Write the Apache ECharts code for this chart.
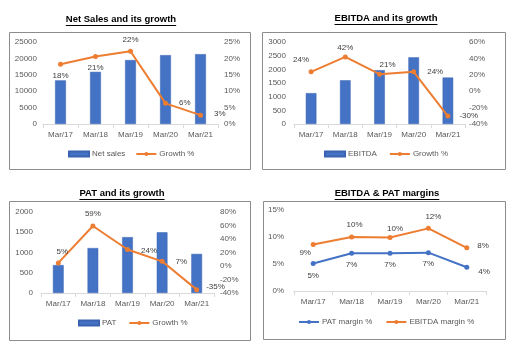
<!DOCTYPE html>
<html>
<head>
<meta charset="utf-8">
<script src="https://cdn.jsdelivr.net/npm/echarts@6/dist/echarts.min.js"></script>
<style>
  html, body { margin: 0; padding: 0; background: #fff; }
  #main { width: 512px; height: 354px; }
</style>
</head>
<body>
<div id="main"></div>
<script>
// data
const categories = ['Mar/17', 'Mar/18', 'Mar/19', 'Mar/20', 'Mar/21']
const netSales = [13300, 15900, 19500, 21000, 21300]
const netSalesGrowth = [18.2, 20.6, 22.2, 6.3, 2.7]
const ebitda = [1130, 1600, 1970, 2440, 1700]
const ebitdaGrowth = [23.6, 41.8, 20.7, 23.6, -30.3]
const pat = [690, 1110, 1380, 1500, 965]
const patGrowth = [4.6, 59.3, 24.4, 6.9, -35]
const ebitdaMargin = [8.6, 10.0, 9.9, 11.6, 8.0]
const patMargin = [5.1, 7.0, 7.0, 7.1, 4.4]

const titles = ['Net Sales and its growth', 'EBITDA and its growth', 'PAT and its growth', 'EBITDA & PAT margins']

const FONT = "'Liberation Sans', Arial, sans-serif"
const FS = 8
const BLUE = '#4472C4'
const ORANGE = '#ED7D31'
const GREY_TXT = '#595959'

// label placement per point (style only)
const lp1 = [['bottom', [0, 0]], ['bottom', [0, 0]], ['top', [0, 0]], ['right', [6, -1]], ['right', [6, -1]]]
const lp2 = [['top', [-10, -1]], ['top', [0, 2]], ['top', [8, 2]], ['right', [6, 0]], ['right', [4, 0]]]
const lp3 = [['top', [4, 0]], ['top', [0, -1]], ['right', [6, 1]], ['right', [6, 0]], ['right', [2, -3]]]
const lp4a = [['bottom', [-8, -3]], ['top', [3, -1]], ['top', [5, 3]], ['top', [5, 0]], ['right', [3, -2]]]
const lp4b = [['bottom', [0, 1]], ['bottom', [0, 0]], ['bottom', [0, 0]], ['bottom', [0, 0]], ['right', [4, 5]]]

function pctData(values, pos) {
  return values.map((v, i) => ({
    value: v,
    label: { position: pos[i][0], offset: pos[i][1] }
  }))
}

let chart = echarts.init(document.getElementById('main'), null, { renderer: 'canvas' })

// measure title width for underline
const TITLE_FONT = 'bold 9.5px ' + FONT
let ctx = document.createElement('canvas').getContext('2d')
ctx.font = TITLE_FONT

const boxes = [
  [9, 32, 241, 137],
  [262, 32, 243, 137],
  [9, 201, 241, 139],
  [263, 201, 242, 138]
]
const titlePos = [[121, 19], [386, 18], [122, 193], [387, 193]]

let graphics = []
boxes.forEach(b => {
  graphics.push({
    type: 'rect', shape: { x: b[0] + 0.5, y: b[1] + 0.5, width: b[2], height: b[3] },
    style: { fill: null, stroke: '#8c8c8c', lineWidth: 1 }
  })
})
titles.forEach((t, i) => {
  let w = ctx.measureText(t).width
  let p = titlePos[i]
  graphics.push({
    type: 'text', x: p[0], y: p[1],
    style: { text: t, font: TITLE_FONT, fill: '#000', textAlign: 'center', textVerticalAlign: 'middle' }
  })
  graphics.push({
    type: 'line', shape: { x1: p[0] - w / 2, y1: p[1] + 6.5, x2: p[0] + w / 2, y2: p[1] + 6.5 },
    style: { stroke: '#000', lineWidth: 1 }
  })
})

function xAx(gi) {
  return {
    type: 'category', gridIndex: gi, data: categories,
    axisLine: { lineStyle: { color: '#d9d9d9' } },
    axisTick: { show: true, length: 4, interval: 0, lineStyle: { color: '#d9d9d9' } },
    axisLabel: { color: GREY_TXT, fontFamily: FONT, fontSize: FS, margin: 7, interval: 0 },
    splitLine: { show: false }
  }
}
function yAx(gi, min, max, interval, pct, margin) {
  return {
    type: 'value', gridIndex: gi, min: min, max: max, interval: interval,
    axisLine: { show: false }, axisTick: { show: false },
    splitLine: { show: false },
    axisLabel: {
      color: GREY_TXT, fontFamily: FONT, fontSize: FS, margin: margin,
      formatter: v => pct ? v + '%' : String(v)
    }
  }
}

const pctLabel = {
  show: true, color: '#404040', fontFamily: FONT, fontSize: FS,
  formatter: p => Math.round(p.value) + '%'
}
function barS(name, data, xi, yi) {
  return {
    name: name, type: 'bar', xAxisIndex: xi, yAxisIndex: yi, data: data,
    barWidth: '31%', itemStyle: { color: BLUE, borderColor: '#3a64b0', borderWidth: 0.5 }
  }
}
function lineS(name, data, xi, yi, color) {
  return {
    name: name, type: 'line', xAxisIndex: xi, yAxisIndex: yi, data: data,
    symbol: 'circle', symbolSize: 5, lineStyle: { color: color, width: 2 },
    itemStyle: { color: color }, label: pctLabel
  }
}
function legend(names, left, top, gap) {
  return {
    data: names, left: left, top: top, padding: 0,
    itemWidth: 20, itemHeight: 5, itemGap: gap,
    textStyle: { color: GREY_TXT, fontFamily: FONT, fontSize: FS, padding: [0, 0, 0, -2] },
    selectedMode: false
  }
}

chart.setOption({
  animation: false,
  grid: [
    { left: 43, top: 42, width: 175, height: 82 },
    { left: 294, top: 42, width: 171, height: 82 },
    { left: 41, top: 212, width: 173, height: 81 },
    { left: 294, top: 210, width: 192, height: 81 }
  ],
  xAxis: [xAx(0), xAx(1), xAx(2), xAx(3)],
  yAxis: [
    yAx(0, 0, 25000, 5000, false, 6),
    yAx(0, 0, 25, 5, true, 6),
    yAx(1, 0, 3000, 500, false, 8),
    yAx(1, -40, 60, 20, true, 4),
    yAx(2, 0, 2000, 500, false, 8),
    yAx(2, -40, 80, 20, true, 6),
    yAx(3, 0, 15, 5, true, 10)
  ],
  legend: [
    legend([{ name: 'Net sales', icon: 'rect' }, 'Growth %'], 68, 150, 10),
    legend([{ name: 'EBITDA', icon: 'rect' }, 'Growth %'], 324, 150, 12),
    legend([{ name: 'PAT', icon: 'rect' }, 'Growth %'], 78, 319, 12),
    legend(['PAT margin %', 'EBITDA margin %'], 298, 318, 13)
  ],
  graphic: graphics,
  series: [
    barS('Net sales', netSales, 0, 0),
    lineS('Growth %', pctData(netSalesGrowth, lp1), 0, 1, ORANGE),
    barS('EBITDA', ebitda, 1, 2),
    lineS('Growth %', pctData(ebitdaGrowth, lp2), 1, 3, ORANGE),
    barS('PAT', pat, 2, 4),
    lineS('Growth %', pctData(patGrowth, lp3), 2, 5, ORANGE),
    lineS('PAT margin %', pctData(patMargin, lp4b), 3, 6, BLUE),
    lineS('EBITDA margin %', pctData(ebitdaMargin, lp4a), 3, 6, ORANGE)
  ]
})
</script>
</body>
</html>
